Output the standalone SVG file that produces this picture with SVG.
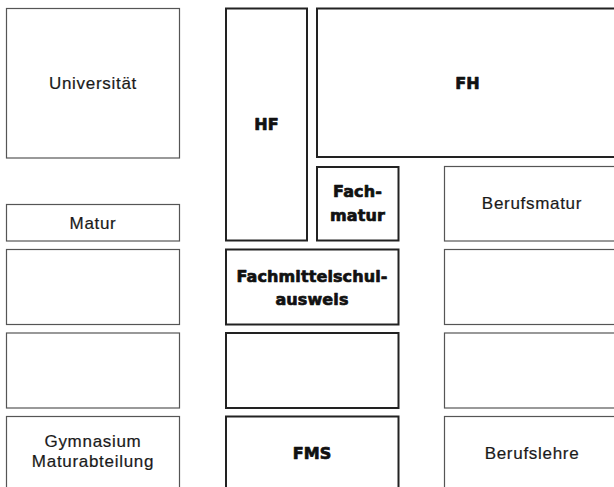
<svg xmlns="http://www.w3.org/2000/svg" width="614" height="487" viewBox="0 0 614 487">
<style>
.thin{fill:#fff;stroke:#555;stroke-width:1.2}
.thick{fill:#fff;stroke:#222;stroke-width:2}
.r{font-family:"Liberation Sans",Arial,sans-serif;font-size:17px;letter-spacing:0.7px;fill:#1a1a1a;stroke:#1a1a1a;stroke-width:0.2;text-anchor:middle}
.b{font-family:"DejaVu Sans",sans-serif;font-weight:bold;font-size:16px;letter-spacing:0.1px;fill:#111;stroke:#111;stroke-width:0.7;stroke-linejoin:round;text-anchor:middle}
</style>
<rect width="614" height="487" fill="#fff"/>
<g id="universitaet"><rect class="thin" x="6.5" y="8.5" width="173" height="149.5"/><text class="r" x="93" y="88.5">Universität</text></g>
<g id="matur"><rect class="thin" x="6.5" y="204.5" width="173" height="36.5"/><text class="r" x="93" y="228.5">Matur</text></g>
<g id="left-empty-1"><rect class="thin" x="6.5" y="249.5" width="173" height="75"/></g>
<g id="left-empty-2"><rect class="thin" x="6.5" y="333" width="173" height="75"/></g>
<g id="gymnasium"><rect class="thin" x="6.5" y="416.5" width="173" height="80"/><text class="r" x="93" y="447">Gymnasium</text><text class="r" x="93" y="466.5">Maturabteilung</text></g>
<g id="hf"><rect class="thick" x="226" y="8.5" width="81" height="232"/><text class="b" x="266.5" y="129.5">HF</text></g>
<g id="fh"><rect class="thick" x="317" y="8.5" width="302" height="148.5"/><text class="b" x="467.5" y="88.5">FH</text></g>
<g id="fachmatur"><rect class="thick" x="317" y="167" width="81.5" height="73.5"/><text class="b" x="357.5" y="197">Fach-</text><text class="b" x="357.5" y="221">matur</text></g>
<g id="berufsmatur"><rect class="thin" x="444.5" y="166.5" width="175" height="74.5"/><text class="r" x="532" y="208.5">Berufsmatur</text></g>
<g id="fachmittelschulausweis"><rect class="thick" x="226" y="249.5" width="172.5" height="75"/><text class="b" x="312" y="282">Fachmittelschul-</text><text class="b" x="312" y="304.5">ausweis</text></g>
<g id="middle-empty"><rect class="thick" x="226" y="333" width="172.5" height="75"/></g>
<g id="fms"><rect class="thick" x="226" y="416.5" width="172.5" height="80"/><text class="b" x="312" y="458.5">FMS</text></g>
<g id="right-empty-1"><rect class="thin" x="444.5" y="249.5" width="175" height="75"/></g>
<g id="right-empty-2"><rect class="thin" x="444.5" y="333" width="175" height="75"/></g>
<g id="berufslehre"><rect class="thin" x="444.5" y="416.5" width="175" height="80"/><text class="r" x="532" y="458.5">Berufslehre</text></g>
<g id="connectors"></g>
</svg>
